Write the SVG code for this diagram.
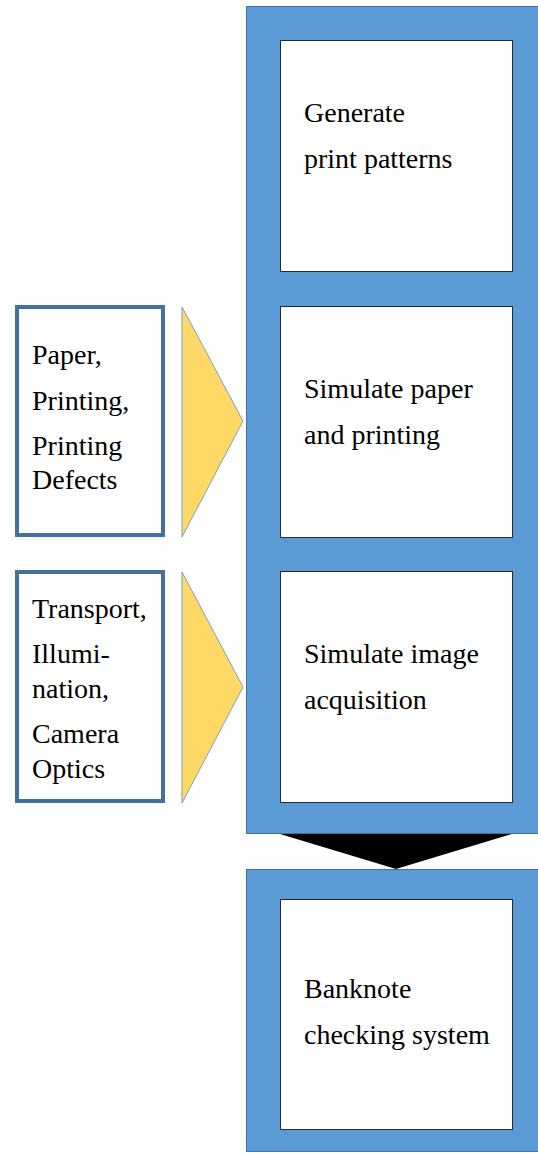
<svg xmlns="http://www.w3.org/2000/svg" width="538" height="1153" viewBox="0 0 538 1153">
<style>
.blue{fill:#5B9BD5;stroke:#41719C;stroke-width:1}
.inner{fill:#FFFFFF;stroke:#2A2A2A;stroke-width:1}
.side{fill:#FFFFFF;stroke:#41719C;stroke-width:4}
.tri{fill:#FFD966;stroke:#7F9DB9;stroke-width:1}
text{font-family:'Liberation Serif','Times New Roman',serif !important;font-size:28px;fill:#000000}
</style>
<rect x="0" y="0" width="538" height="1153" fill="#FFFFFF"/>
<g id="pipeline">
<rect class="blue" x="246.5" y="6.5" width="295" height="827"/>
</g>
<g id="generate">
<rect class="inner" x="280.5" y="40.5" width="232" height="231"/>
<text x="304" y="122" style="font-family:'Liberation Serif',serif">Generate</text>
<text x="304" y="168" style="font-family:'Liberation Serif',serif">print patterns</text>
</g>
<g id="simulate-paper">
<rect class="inner" x="280.5" y="306.5" width="232" height="231"/>
<text x="304" y="398" style="font-family:'Liberation Serif',serif">Simulate paper</text>
<text x="304" y="444" style="font-family:'Liberation Serif',serif">and printing</text>
</g>
<g id="simulate-image">
<rect class="inner" x="280.5" y="571.5" width="232" height="231"/>
<text x="304" y="663" style="font-family:'Liberation Serif',serif">Simulate image</text>
<text x="304" y="709" style="font-family:'Liberation Serif',serif">acquisition</text>
</g>
<g id="banknote">
<rect class="blue" x="246.5" y="869.5" width="295" height="282"/>
<rect class="inner" x="280.5" y="899.5" width="232" height="230"/>
<text x="304" y="998" style="font-family:'Liberation Serif',serif">Banknote</text>
<text x="304" y="1044" style="font-family:'Liberation Serif',serif">checking system</text>
</g>
<g id="paper-inputs">
<rect class="side" x="17" y="307" width="146" height="228"/>
<text x="32" y="364" style="font-family:'Liberation Serif',serif">Paper,</text>
<text x="32" y="410" style="font-family:'Liberation Serif',serif">Printing,</text>
<text x="32" y="455" style="font-family:'Liberation Serif',serif">Printing</text>
<text x="32" y="489" style="font-family:'Liberation Serif',serif">Defects</text>
</g>
<g id="camera-inputs">
<rect class="side" x="17" y="572" width="146" height="229"/>
<text x="32" y="618" style="font-family:'Liberation Serif',serif">Transport,</text>
<text x="32" y="663" style="font-family:'Liberation Serif',serif">Illumi-</text>
<text x="32" y="698" style="font-family:'Liberation Serif',serif">nation,</text>
<text x="32" y="743" style="font-family:'Liberation Serif',serif">Camera</text>
<text x="32" y="778" style="font-family:'Liberation Serif',serif">Optics</text>
</g>
<g id="connectors">
<polygon class="tri" points="182,307 243,421 182,537"/>
<polygon class="tri" points="182,572 243,687 182,803"/>
<polygon points="280,834 512,834 396,869" fill="#000000"/>
</g>
</svg>
